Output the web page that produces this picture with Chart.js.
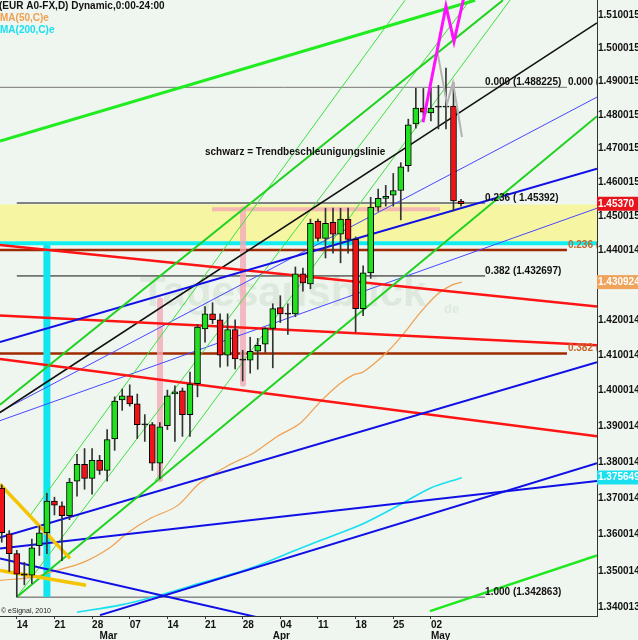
<!DOCTYPE html>
<html>
<head>
<meta charset="utf-8">
<script src="https://cdn.jsdelivr.net/npm/chart.js@4/dist/chart.umd.min.js"></script>
<style>
html, body { margin: 0; padding: 0; background: #eff5ef; }
#wrap { width: 638px; height: 640px; }
</style>
</head>
<body>
<div id="wrap"><canvas id="myChart" width="638" height="640"></canvas></div>
<script>
// EUR/USD daily candles, x value = trading day index into days[]
const days = ['2011-02-10','2011-02-11','2011-02-14','2011-02-15','2011-02-16','2011-02-17','2011-02-18',
  '2011-02-21','2011-02-22','2011-02-23','2011-02-24','2011-02-25',
  '2011-02-28','2011-03-01','2011-03-02','2011-03-03','2011-03-04',
  '2011-03-07','2011-03-08','2011-03-09','2011-03-10','2011-03-11',
  '2011-03-14','2011-03-15','2011-03-16','2011-03-17','2011-03-18',
  '2011-03-21','2011-03-22','2011-03-23','2011-03-24','2011-03-25',
  '2011-03-28','2011-03-29','2011-03-30','2011-03-31','2011-04-01',
  '2011-04-04','2011-04-05','2011-04-06','2011-04-07','2011-04-08',
  '2011-04-11','2011-04-12','2011-04-13','2011-04-14','2011-04-15',
  '2011-04-18','2011-04-19','2011-04-20','2011-04-21','2011-04-22',
  '2011-04-25','2011-04-26','2011-04-27','2011-04-28','2011-04-29',
  '2011-05-02','2011-05-03','2011-05-04','2011-05-05','2011-05-06'];

const open = [1.3727,1.3601,1.3547,1.3488,1.3488,1.3569,1.3604,
  1.3691,1.3678,1.3651,1.3746,1.3793,
  1.3754,1.3804,1.3776,1.3864,1.3973,
  1.3985,1.3962,1.3903,1.3904,1.3796,
  1.3901,1.3990,1.3999,1.3932,1.4019,
  1.4175,1.4218,1.4201,1.4100,1.4173,
  1.4086,1.4086,1.4111,1.4131,1.4176,
  1.4236,1.4217,1.4218,1.4333,1.4304,
  1.4486,1.4436,1.4483,1.4448,1.4492,
  1.4433,1.4233,1.4336,1.4527,1.4553,
  1.4562,1.4576,1.4649,1.4773,1.4820,
  1.4806,1.4823,1.4825,1.4826,1.4545];
const high = [1.3736,1.3610,1.3556,1.3523,1.3587,1.3623,1.3713,
  1.3702,1.3689,1.3754,1.3821,1.3837,
  1.3837,1.3818,1.3890,1.3982,1.4004,
  1.4016,1.3990,1.3932,1.3910,1.3910,
  1.4001,1.4013,1.4007,1.4052,1.4187,
  1.4239,1.4250,1.4218,1.4218,1.4201,
  1.4114,1.4151,1.4148,1.4178,1.4247,
  1.4270,1.4247,1.4353,1.4350,1.4492,
  1.4492,1.4524,1.4524,1.4524,1.4524,
  1.4440,1.4356,1.4556,1.4580,1.4591,
  1.4626,1.4658,1.4787,1.4879,1.4879,
  1.4879,1.4888,1.4940,1.4897,1.4550];
const low = [1.3578,1.3498,1.3429,1.3462,1.3466,1.3542,1.3547,
  1.3653,1.3528,1.3640,1.3705,1.3724,
  1.3710,1.3765,1.3746,1.3832,1.3944,
  1.3956,1.3865,1.3857,1.3776,1.3753,
  1.3890,1.3857,1.3871,1.3871,1.3982,
  1.4137,1.4190,1.4066,1.4069,1.4061,
  1.4027,1.4049,1.4060,1.4108,1.4064,
  1.4193,1.4159,1.4210,1.4283,1.4290,
  1.4428,1.4379,1.4393,1.4365,1.4393,
  1.4166,1.4213,1.4320,1.4515,1.4530,
  1.4530,1.4490,1.4632,1.4760,1.4797,
  1.4782,1.4758,1.4758,1.4516,1.4530];
const close = [1.3604,1.3547,1.3491,1.3492,1.3563,1.3604,1.3691,
  1.3680,1.3651,1.3744,1.3793,1.3754,
  1.3804,1.3776,1.3862,1.3970,1.3985,
  1.3962,1.3904,1.3906,1.3796,1.3898,
  1.3985,1.3996,1.3932,1.4018,1.4180,
  1.4218,1.4201,1.4100,1.4173,1.4089,
  1.4088,1.4111,1.4128,1.4176,1.4233,
  1.4218,1.4220,1.4333,1.4307,1.4480,
  1.4436,1.4480,1.4448,1.4492,1.4433,
  1.4233,1.4336,1.4527,1.4553,1.4559,
  1.4576,1.4646,1.4770,1.4820,1.4808,
  1.4820,1.4825,1.4823,1.4545,1.4537];

// moving averages at these day positions
const ma50Day = [-0.23,4.2,6.4,10.8,14.4,16.6,19.7,23.3,26.3,29.9,33.4,36.6,39.6,42.3,44.9,46.7,48.0,51.2,53.3,55.6,57.8,59.9,61.1];
const ma50 = [1.3474,1.3483,1.3496,1.3523,1.3564,1.3602,1.3643,1.3678,1.3741,1.3788,1.3824,1.3871,1.3907,1.3968,1.4019,1.4044,1.4052,1.4109,1.4159,1.4222,1.4273,1.4302,1.4309];
const ma200Day = [10.0,15.7,21.0,26.3,33.0,39.6,42.3,48.0,53.3,56.9,61.1];
const ma200 = [1.3388,1.3407,1.3434,1.3466,1.3507,1.3561,1.3583,1.3629,1.3686,1.3727,1.3756];

// right axis
const yTicks = [1.510015,1.500015,1.490015,1.480015,1.470015,1.460015,1.4537,1.450015,1.440014,1.430924,
  1.420014,1.410014,1.400014,1.390014,1.380014,1.375649,1.370014,1.360014,1.350014,1.340013];
const yLabels = ['1.510015','1.500015','1.490015','1.480015','1.470015','1.460015','1.45370','1.450015','1.440014','1.430924',
  '1.420014','1.410014','1.400014','1.390014','1.380014','1.375649','1.370014','1.360014','1.350014','1.340013'];
const yMarked = {'1.45370': '#e8141c', '1.430924': '#f0a35a', '1.375649': '#18e0ee'};

// fibonacci retracements
const fibLevels = [1.488225, 1.45392, 1.432697, 1.342863];
const fibText = ['0.000 (1.488225)', '0.236 ( 1.45392)', '0.382 (1.432697)', '1.000 (1.342863)'];
const fib2Levels = [1.488225, 1.4402, 1.4105];
const fib2Text = ['0.000 (', '0.236 (', '0.382 ('];

// zone
const zone = [1.4535, 1.4428];

// drawn lines, [day, price] points
const greenThick = [[-0.23,1.4722],[62.86,1.5146]];
const greenUpper = [[-0.23,1.3960],[66.57,1.5146]];
const greenLower = [[2,1.3429],[79.06,1.4796]];
const greenLow2 = [[56.88,1.3391],[79.06,1.3542]];
const greenFan1 = [[3.76,1.3651],[53.56,1.5146]];
const greenFan2 = [[20.36,1.3747],[67.5,1.5146]];
const greenFan3 = [[2,1.3429],[62.19,1.5146]];
const blackTrend = [[-0.23,1.3938],[79.06,1.5077]];
const red1 = [[-0.23,1.4417],[79.06,1.4239]];
const red2 = [[-0.23,1.4213],[79.06,1.4128]];
const red3 = [[-0.23,1.4089],[79.06,1.3871]];
const blue1 = [[-0.23,1.4137],[79.06,1.4640]];
const blue2 = [[-0.23,1.3591],[79.06,1.4080]];
const blue3 = [[-0.23,1.3561],[79.06,1.3747]];
const blue4 = [[13.05,1.3380],[79.06,1.3796]];
const blue5 = [[-0.23,1.3534],[39.61,1.3348]];
const blueThin1 = [[-0.23,1.3940],[79.06,1.4853]];
const blueThin2 = [[-0.23,1.3915],[79.06,1.4524]];
const gold1 = [[-0.23,1.3738],[9.07,1.3534]];
const gold2 = [[-0.23,1.3501],[11.2,1.3461]];
const cyanLevel = [[-0.23,1.4422],[79.06,1.4422]];
const cyanMark = [[6,1.4422],[6,1.3429]];
const pinkLevel = [[27.93,1.4521],[58.21,1.4521]];
const pinkMark1 = [[32.05,1.4521],[32.05,1.4019]];
const pinkMark2 = [[21.02,1.4256],[21.02,1.3752]];
const projMagenta = [[55.95,1.4778],[59.0,1.5128],[60.07,1.5020],[61.53,1.5171]];
const projGray = [[57.81,1.4996],[59.14,1.4832],[59.93,1.4897],[61.13,1.4734]];

const xMin = -0.23, xMax = 79.06;
const fibEnd = 64.2, fib2End = 75.07, fib2Text_x = 75.2;

// week and month labels from the dates
const weekIdx = [], weekLabels = [], monthIdx = [], monthLabels = [];
const monthNames = ['Jan','Feb','Mar','Apr','May','Jun'];
days.forEach((d, i) => {
  const dt = new Date(d + 'T00:00:00Z');
  if (dt.getUTCDay() === 1) { weekIdx.push(i); weekLabels.push(d.slice(8)); }
  if (i > 0 && d.slice(5, 7) !== days[i - 1].slice(5, 7)) { monthIdx.push(i); monthLabels.push(monthNames[dt.getUTCMonth()]); }
});

const FONT = '"Liberation Sans", Arial, sans-serif';
const pts = a => a.map(p => ({x: p[0], y: p[1]}));

function seg(points, color, width, order, extra) {
  return Object.assign({
    type: 'line', data: pts(points), borderColor: color, borderWidth: width,
    pointRadius: 0, fill: false, tension: 0, order: order
  }, extra || {});
}
function hline(level, from, to, color, width, order) {
  return seg([[from, level], [to, level]], color, width, order);
}

const datasets = [
  // zone band
  seg([[xMin, zone[0]], [xMax, zone[0]]], 'rgba(0,0,0,0)', 0, 100),
  seg([[xMin, zone[1]], [xMax, zone[1]]], 'rgba(0,0,0,0)', 0, 99, {fill: '-1', backgroundColor: '#f6f6a2'}),
  // fib levels
  hline(fibLevels[0], xMin, fib2End, '#777', 1, 50),
  hline(fibLevels[1], 2, fibEnd, '#111', 1, 50),
  hline(fibLevels[2], 2, fibEnd, '#111', 1, 50),
  hline(fibLevels[3], 2, fibEnd, '#555', 1, 50),
  hline(fib2Levels[1], xMin, fib2End, '#a02a00', 2.5, 50),
  hline(fib2Levels[2], xMin, fib2End, '#a02a00', 2.5, 50),
  seg(cyanLevel, '#10eef0', 4, 49),
  seg(cyanMark, '#10e6f0', 7, 49),
  seg(pinkLevel, 'rgba(242,170,182,0.8)', 4, 48),
  seg(pinkMark1, 'rgba(242,170,182,0.8)', 6, 48, {borderCapStyle: 'round'}),
  seg(pinkMark2, 'rgba(242,170,182,0.8)', 6, 48, {borderCapStyle: 'round'}),
  // moving averages
  seg(ma50Day.map((d, i) => [d, ma50[i]]), '#f0a050', 1.2, 45, {tension: 0.3}),
  seg(ma200Day.map((d, i) => [d, ma200[i]]), '#18e0f0', 1.6, 45, {tension: 0.3}),
  // trendlines
  seg(greenFan1, '#3ee03e', 1, 40),
  seg(greenFan2, '#3ee03e', 1, 40),
  seg(greenFan3, '#3ee03e', 1, 40),
  seg(blueThin1, '#4848ff', 1, 40),
  seg(blueThin2, '#4848ff', 1, 40),
  seg(blackTrend, '#111', 1.6, 39),
  seg(red1, '#ff1414', 2.5, 38),
  seg(red2, '#ff1414', 2.5, 38),
  seg(red3, '#ff1414', 2.5, 38),
  seg(blue1, '#1010e6', 2, 37),
  seg(blue2, '#1010e6', 2, 37),
  seg(blue3, '#1010e6', 2, 37),
  seg(blue4, '#1010e6', 2, 37),
  seg(blue5, '#1010e6', 2, 37),
  seg(greenUpper, '#1ed21e', 2, 36),
  seg(greenLower, '#1ed21e', 2, 36),
  seg(greenLow2, '#1ee81e', 2.5, 36),
  seg(greenThick, '#20ec20', 3, 36),
  seg(gold1, '#f5c400', 3.5, 35),
  seg(gold2, '#f5c400', 3.5, 35),
  // candles
  {
    type: 'bar', data: days.map((d, i) => ({x: i, y: [low[i], high[i]]})),
    backgroundColor: '#333', barThickness: 1, grouped: false, order: 10
  },
  {
    type: 'bar', data: days.map((d, i) => ({x: i, y: [open[i], close[i]]})),
    backgroundColor: ctx => {
      const i = ctx.dataIndex;
      if (Math.abs(open[i] - close[i]) < 0.00045) return '#111';
      return close[i] >= open[i] ? '#20e020' : '#ee1418';
    },
    borderColor: '#000', borderWidth: 1, borderSkipped: false,
    barThickness: 6, minBarLength: 1, grouped: false, order: 5
  },
  // projection
  seg(projGray, '#b4b4b4', 2, 2),
  seg(projMagenta, '#ff10ff', 3, 1)
];

const notes = {
  id: 'notes',
  beforeDatasetsDraw(chart) {
    const c = chart.ctx, a = chart.chartArea;
    c.save();
    c.fillStyle = 'rgba(175,200,175,0.26)';
    c.font = 'bold 42px ' + FONT;
    c.fillText('Tagesausblick', a.left + 140, a.top + 306);
    c.font = 'bold 13px ' + FONT;
    c.fillText('de', a.left + 444, a.top + 313);
    c.restore();
  },
  afterDatasetsDraw(chart) {
    const c = chart.ctx, a = chart.chartArea, x = chart.scales.x, y = chart.scales.y;
    c.save();
    c.beginPath(); c.rect(a.left, a.top, a.width, a.height); c.clip();
    c.font = 'bold 10px ' + FONT;
    c.textBaseline = 'alphabetic';
    c.fillStyle = '#111';
    fibLevels.forEach((lv, i) => c.fillText(fibText[i], x.getPixelForValue(fibEnd), y.getPixelForValue(lv) - 2));
    fib2Levels.forEach((lv, i) => {
      c.fillStyle = i === 0 ? '#111' : '#c8642a';
      c.fillText(fib2Text[i], x.getPixelForValue(fib2Text_x), y.getPixelForValue(lv) - 2);
    });
    c.fillStyle = '#111';
    c.fillText('schwarz = Trendbeschleunigungslinie', a.left + 205, a.top + 155);
    c.fillText('(EUR A0-FX,D) Dynamic,0:00-24:00', a.left - 1, a.top + 9);
    c.fillStyle = '#f0a050';
    c.fillText('MA(50,C)e', a.left, a.top + 21);
    c.fillStyle = '#18e0f0';
    c.fillText('MA(200,C)e', a.left, a.top + 33);
    c.fillStyle = '#222';
    c.font = '7px ' + FONT;
    c.fillText('\u00a9 eSignal, 2010', a.left + 1, a.top + 613);
    c.restore();
  },
  afterDraw(chart) {
    const c = chart.ctx, x = chart.scales.x;
    c.save();
    c.font = 'bold 10px ' + FONT;
    c.fillStyle = '#111';
    c.textAlign = 'left';
    c.textBaseline = 'alphabetic';
    monthIdx.forEach((k, i) => c.fillText(monthLabels[i], x.getPixelForValue(k), 639));
    c.restore();
  }
};

new Chart(document.getElementById('myChart'), {
  type: 'line',
  data: {datasets: datasets},
  plugins: [notes],
  options: {
    responsive: false,
    maintainAspectRatio: false,
    animation: false,
    events: [],
    layout: {padding: 0},
    plugins: {legend: {display: false}, tooltip: {enabled: false}},
    scales: {
      x: {
        type: 'linear', min: xMin, max: xMax, offset: false,
        grid: {offset: false, drawOnChartArea: false, drawTicks: true, tickLength: 3, color: '#333'},
        border: {display: true, color: '#333', width: 1},
        afterBuildTicks: s => { s.ticks = weekIdx.map(v => ({value: v})); },
        afterFit: s => { s.height = 24; s.paddingLeft = 0; s.paddingRight = 0; },
        ticks: {
          autoSkip: false, maxRotation: 0, minRotation: 0, align: 'start', padding: 0,
          color: '#111', font: {family: FONT, size: 10, weight: 'bold'},
          callback: (v, i) => weekLabels[i]
        }
      },
      y: {
        type: 'logarithmic', position: 'right', min: 1.33777, max: 1.51466, beginAtZero: false,
        grid: {drawOnChartArea: false, drawTicks: false},
        border: {display: true, color: '#333', width: 1},
        afterBuildTicks: s => { s.ticks = yTicks.map(v => ({value: v})); },
        afterFit: s => { s.width = 41; s.paddingTop = 0; s.paddingBottom = 0; },
        ticks: {
          autoSkip: false, padding: 1,
          font: {family: FONT, size: 10, weight: 'bold'},
          callback: (v, i) => yLabels[i],
          color: ctx => yMarked[yLabels[ctx.index]] ? '#fff' : '#111',
          showLabelBackdrop: ctx => !!yMarked[yLabels[ctx.index]],
          backdropColor: ctx => yMarked[yLabels[ctx.index]] || 'rgba(0,0,0,0)',
          backdropPadding: {top: 1, bottom: 1, left: 1, right: 6}
        }
      }
    }
  }
});
</script>
</body>
</html>
